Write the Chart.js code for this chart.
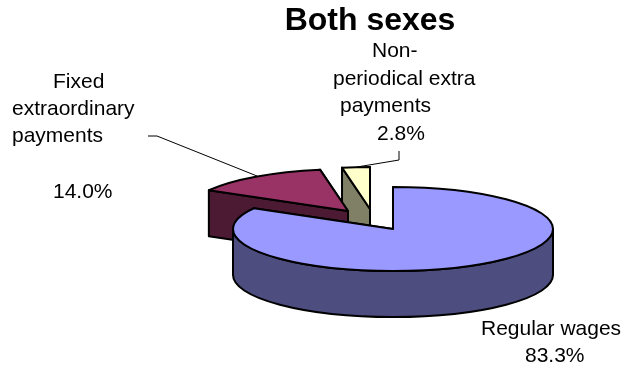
<!DOCTYPE html>
<html>
<head>
<meta charset="utf-8">
<title>Both sexes</title>
<script src="https://cdn.jsdelivr.net/npm/chart.js@4/dist/chart.umd.min.js"></script>
<style>
    html, body { margin: 0; padding: 0; background: #fff; }
    #wrap { position: relative; width: 622px; height: 367px; }
</style>
</head>
<body>
<div id="wrap"><canvas id="pie"></canvas></div>
<script>
// values
const chartTitle = 'Both sexes';
const categories = ['Regular wages', 'Fixed extraordinary payments', 'Non-periodical extra payments'];
const shares = [83.3, 14.0, 2.8];
const shareLabels = ['83.3%', '14.0%', '2.8%'];

// colours per slice
const topColors = ['#9999FF', '#993366', '#FFFFCC'];
const sideColors = ['#4D4D80', '#4D1A33', '#808066'];

// fake 3D settings
const FONT = '"Liberation Sans", Arial, sans-serif';
const CENTER_Y = 229;
const SQUASH = 42 / 160;
const DEPTH = 46;
const explode = [[0, 0], [-45, -18], [-23, -20]];

// label placement, left edge + baseline of every text line
const textLines = [
    ['Fixed', 53, 88], ['extraordinary', 12, 115], ['payments', 12, 142], [shareLabels[1], 53, 198],
    ['Non-', 372, 57], ['periodical extra', 333, 85], ['payments', 340, 112], [shareLabels[2], 377, 140],
    ['Regular wages', 481, 335], [shareLabels[0], 525, 362]
];
const leaders = [
    [[148, 136], [157, 136], [257, 176]],
    [[399, 151], [399, 160], [357, 167]]
];

// ── slice parts ───────────────────────────────────────────
function rimPoint(el, angle, i) {
    return {
        x: el.x + explode[i][0] + el.outerRadius * Math.cos(angle),
        y: CENTER_Y + explode[i][1] + el.outerRadius * SQUASH * Math.sin(angle)
    };
}

function drawFace(ctx, el, angle, i) {
    const c = { x: el.x + explode[i][0], y: CENTER_Y + explode[i][1] };
    const p = rimPoint(el, angle, i);
    ctx.beginPath();
    ctx.moveTo(c.x, c.y);
    ctx.lineTo(p.x, p.y);
    ctx.lineTo(p.x, p.y + DEPTH);
    ctx.lineTo(c.x, c.y + DEPTH);
    ctx.closePath();
    ctx.fillStyle = sideColors[i];
    ctx.fill();
    ctx.stroke();
}

function drawRim(ctx, el, i) {
    // only the front half of the rim can be seen
    const from = Math.max(el.startAngle, 0);
    const to = Math.min(el.endAngle, Math.PI);
    if (to <= from) return;
    const cx = el.x + explode[i][0];
    const cy = CENTER_Y + explode[i][1];
    const ry = el.outerRadius * SQUASH;
    ctx.beginPath();
    ctx.ellipse(cx, cy, el.outerRadius, ry, 0, from, to);
    ctx.ellipse(cx, cy + DEPTH, el.outerRadius, ry, 0, to, from, true);
    ctx.closePath();
    ctx.fillStyle = sideColors[i];
    ctx.fill();
    ctx.stroke();
}

function drawTop(ctx, el, i) {
    const cx = el.x + explode[i][0];
    const cy = CENTER_Y + explode[i][1];
    // the library's own arc, squashed into an ellipse
    ctx.save();
    ctx.translate(cx, cy);
    ctx.scale(1, SQUASH);
    ctx.translate(-el.x, -el.y);
    el.draw(ctx);
    ctx.restore();
    ctx.beginPath();
    ctx.moveTo(cx, cy);
    ctx.ellipse(cx, cy, el.outerRadius, el.outerRadius * SQUASH, 0, el.startAngle, el.endAngle);
    ctx.closePath();
    ctx.stroke();
}

const pie3d = {
    id: 'pie3d',
    afterLayout(chart) {
        // title sits right of the canvas middle in the reference
        chart.titleBlock.left = 118;
        chart.titleBlock.right = 622;
    },
    beforeDatasetDraw(chart) {
        const ctx = chart.ctx;
        const arcs = chart.getDatasetMeta(0).data;
        ctx.save();
        ctx.strokeStyle = '#000';
        ctx.lineWidth = 2;
        ctx.lineJoin = 'round';
        // back to front
        [2, 1, 0].forEach(i => {
            const el = arcs[i];
            drawFace(ctx, el, el.endAngle, i);
            drawFace(ctx, el, el.startAngle, i);
            drawRim(ctx, el, i);
            drawTop(ctx, el, i);
        });
        ctx.restore();
        return false;
    },
    afterDraw(chart) {
        const ctx = chart.ctx;
        ctx.save();
        ctx.strokeStyle = '#000';
        ctx.lineWidth = 1;
        leaders.forEach(line => {
            ctx.beginPath();
            line.forEach((p, n) => n ? ctx.lineTo(p[0], p[1]) : ctx.moveTo(p[0], p[1]));
            ctx.stroke();
        });
        ctx.fillStyle = '#000';
        ctx.font = '21px ' + FONT;
        ctx.textAlign = 'left';
        ctx.textBaseline = 'alphabetic';
        textLines.forEach(t => ctx.fillText(t[0], t[1], t[2]));
        ctx.restore();
    }
};

new Chart(document.getElementById('pie'), {
    type: 'pie',
    data: {
        labels: categories,
        datasets: [{
            data: shares,
            backgroundColor: topColors,
            borderWidth: 0,
            hoverOffset: 0
        }]
    },
    options: {
        responsive: true,
        maintainAspectRatio: false,
        animation: false,
        layout: { padding: { left: 233, right: 69 } },
        plugins: {
            legend: { display: false },
            title: {
                display: true,
                text: chartTitle,
                color: '#000',
                padding: { top: 2, bottom: 0 },
                font: { family: FONT, size: 32, weight: 'bold' }
            }
        }
    },
    plugins: [pie3d]
});
</script>
</body>
</html>
